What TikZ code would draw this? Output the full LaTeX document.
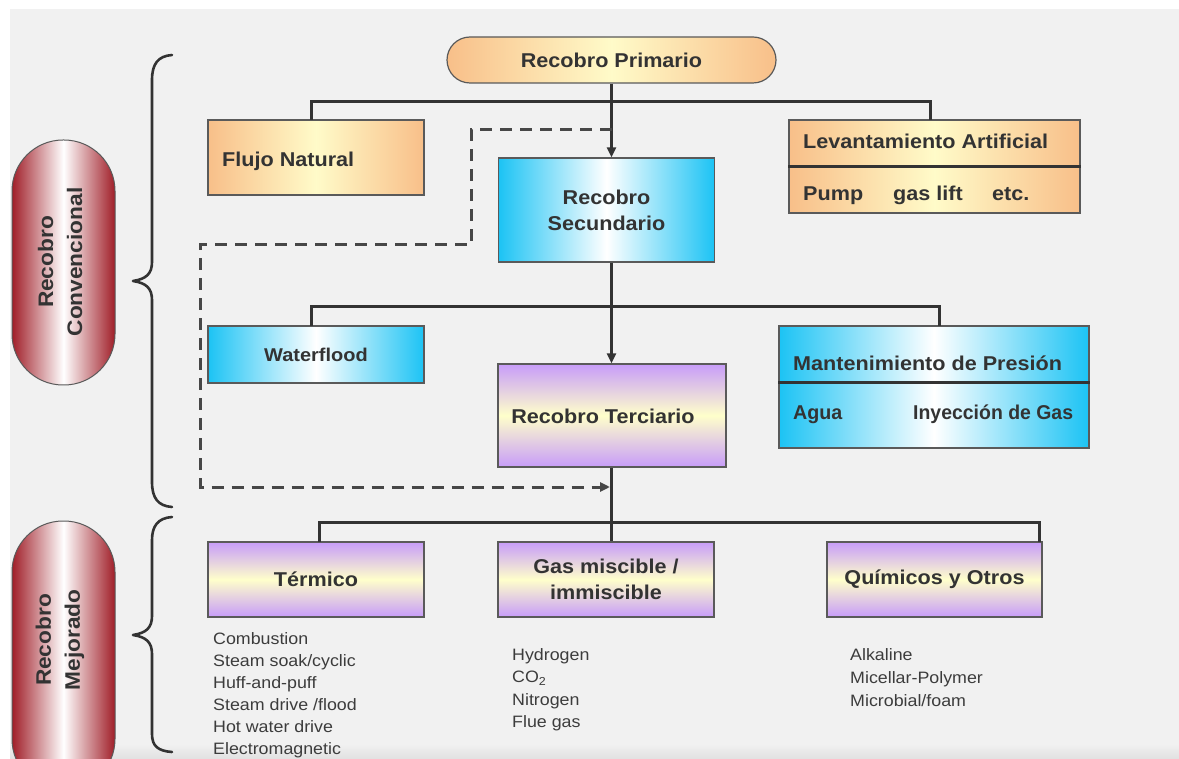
\documentclass[tikz,border=0pt]{standalone}
\usepackage{fontspec}
\usepackage{graphicx}
\setmainfont{Liberation Sans}[FakeStretch=1.08]
\usetikzlibrary{arrows.meta,shapes.misc,calc}

\definecolor{bgray}{HTML}{F1F1F1}
\definecolor{ink}{HTML}{333333}
\definecolor{listink}{HTML}{3C3C3C}
\definecolor{boxline}{HTML}{5A5A5A}
\definecolor{orEdge}{HTML}{F8BF89}
\definecolor{orMid}{HTML}{FFFBC9}
\definecolor{blEdge}{HTML}{1CC3F4}
\definecolor{blMid}{HTML}{FFFFFF}
\definecolor{puEdge}{HTML}{C79CF9}
\definecolor{puMid}{HTML}{FFFFCB}
\definecolor{rdEdge}{HTML}{A01E28}

\tikzset{
  boxbase/.style={draw=boxline, line width=1.2pt, inner sep=0pt, text=ink,
    font=\fontsize{20pt}{26pt}\selectfont\bfseries, align=center},
  orangebox/.style={boxbase, rectangle, shading=axis, left color=orEdge, right color=orEdge, middle color=orMid},
  bluebox/.style={boxbase, rectangle, left color=blEdge, right color=blEdge, middle color=blMid},
  purplebox/.style={boxbase, rectangle, top color=puEdge, bottom color=puEdge, middle color=puMid},
  pillbox/.style={boxbase, rounded rectangle, left color=orEdge, right color=orEdge, middle color=orMid},
  redpill/.style={draw=boxline, line width=1pt, left color=rdEdge, right color=rdEdge, middle color=white},
  pilltext/.style={rotate=90, align=center, text=ink, font=\fontsize{21pt}{29pt}\selectfont\bfseries},
  lbl/.style={text=ink, inner sep=0pt, anchor=base west, font=\fontsize{20pt}{24pt}\selectfont\bfseries},
  listtxt/.style={text=listink, inner sep=0pt, anchor=base west, font=\fontsize{16.5pt}{20pt}\selectfont},
  conn/.style={draw=ink, line width=3pt},
  arr/.style={conn, -{Triangle[width=9pt,length=10pt]}},
  dashconn/.style={draw=ink!90, line width=3pt, dash pattern=on 12pt off 8pt, -{Triangle[width=9pt,length=10pt]}},
  divider/.style={draw=ink, line width=3pt},
  bracket/.style={draw=ink, line width=2.6pt, line cap=round, line join=round}
}

\begin{document}
\begin{tikzpicture}[x=1pt,y=-1pt]
% canvas
\useasboundingbox (0,0) rectangle (1179,759);
\fill[white] (0,0) rectangle (1179,759);
\fill[bgray] (10,9) rectangle (1179,759);
\shade[top color=bgray, bottom color=black!12] (10,744) rectangle (1179,759);

% ---------- side labels ----------
\path[redpill, rounded corners=51pt] (12,140) rectangle (115,385);
\node[pilltext] (conv) at (60,262) {Recobro\\Convencional};
\path[redpill, rounded corners=51pt] (12,521) rectangle (115,790);
\node[pilltext] (mejo) at (60,640) {Recobro\\Mejorado};

% braces
\draw[bracket] (172,55) .. controls (158,56) and (152,64) .. (152,80)
  -- (152,262) .. controls (152,274) and (146,279) .. (133,281)
  .. controls (146,283) and (152,288) .. (152,300)
  -- (152,482) .. controls (152,498) and (158,506) .. (172,507);
\draw[bracket] (172,517) .. controls (158,518) and (152,526) .. (152,540)
  -- (152,616) .. controls (152,628) and (146,633) .. (133,635)
  .. controls (146,637) and (152,642) .. (152,654)
  -- (152,734) .. controls (152,746) and (158,751) .. (172,752);

% ---------- boxes ----------
\node[pillbox, minimum width=329pt, minimum height=46pt] (prim) at (611.5,60) {Recobro Primario};

\node[orangebox, minimum width=216pt, minimum height=75pt] (flujo) at (316,157.5) {};
\node[lbl] (flujoT) at (222,167) {Flujo Natural};

\node[orangebox, minimum width=291pt, minimum height=93pt] (lev) at (934.5,166.5) {};
\node[lbl] (levT) at (803,149) {Levantamiento Artificial};
\node[lbl] (pump) at (803,201) {Pump};
\node[lbl] (glift) at (893,201) {gas lift};
\node[lbl] (etc) at (992,201) {etc.};

\node[bluebox, minimum width=216pt, minimum height=104pt] (sec) at (606.5,210) {Recobro\\Secundario};

\node[bluebox, minimum width=216pt, minimum height=57pt, font=\fontsize{18.5pt}{24pt}\selectfont\bfseries] (wf) at (316,354.5) {Waterflood};

\node[bluebox, minimum width=310pt, minimum height=122pt] (mant) at (934,387) {};
\node[lbl] (mantT) at (793,371) {Mantenimiento de Presión};
\node[lbl] (agua) at (793,420) {\scalebox{0.91}[1]{Agua}};
\node[lbl] (iny) at (913,420) {\scalebox{0.9}[1]{Inyección de Gas}};

\node[purplebox, minimum width=228pt, minimum height=103pt] (terc) at (612,415.5) {};
\node[lbl, anchor=center] (tercT) at (603,416) {Recobro Terciario};

\node[purplebox, minimum width=216pt, minimum height=75pt] (term) at (316,579.5) {Térmico};
\node[purplebox, minimum width=216pt, minimum height=75pt] (gas) at (606,579.5) {Gas miscible /\\immiscible};
\node[purplebox, minimum width=215pt, minimum height=75pt] (quim) at (934.5,579.5) {Químicos y Otros};

% dividers inside split boxes
\draw[divider] (lev.west |- 0,167) -- (lev.east |- 0,167);
\draw[divider] (mant.west |- 0,383) -- (mant.east |- 0,383);

% ---------- connectors ----------
\coordinate (b1) at (611.5,102);
\coordinate (b2) at (611.5,307);
\coordinate (b3) at (611.5,522);
\coordinate (d0) at (611.5,130);
\coordinate (dA) at (471,245);
\coordinate (dB) at (200,487);
\coordinate (dC) at (610,487);

\draw[conn] (311,120) |- (b1) -| (930,120);
\draw[arr] (prim.south) -- (prim.south |- sec.north);

\draw[conn] (311,326) |- (b2) -| (939,326);
\draw[arr] (sec.south -| prim.south) -- (terc.north -| prim.south);

\draw[conn] (terc.south -| prim.south) -- (gas.north -| prim.south);
\draw[conn] (319,542) |- (b3) -| (1039,542);

\draw[dashconn] (d0) -| (dA) -| (dB) -- (dC);

% ---------- lists ----------
\node[listtxt] (l1) at (213,644) {Combustion};
\node[listtxt] (l2) at (213,666) {Steam soak/cyclic};
\node[listtxt] (l3) at (213,688) {Huff-and-puff};
\node[listtxt] (l4) at (213,710) {Steam drive /flood};
\node[listtxt] (l5) at (213,732) {Hot water drive};
\node[listtxt] (l6) at (213,754) {Electromagnetic};

\node[listtxt] (g1) at (512,660) {Hydrogen};
\node[listtxt] (g2) at (512,682.5) {CO\textsubscript{2}};
\node[listtxt] (g3) at (512,705) {Nitrogen};
\node[listtxt] (g4) at (512,727.5) {Flue gas};

\node[listtxt] (q1) at (850,660) {Alkaline};
\node[listtxt] (q2) at (850,683) {Micellar-Polymer};
\node[listtxt] (q3) at (850,706) {Microbial/foam};
\end{tikzpicture}
\end{document}
